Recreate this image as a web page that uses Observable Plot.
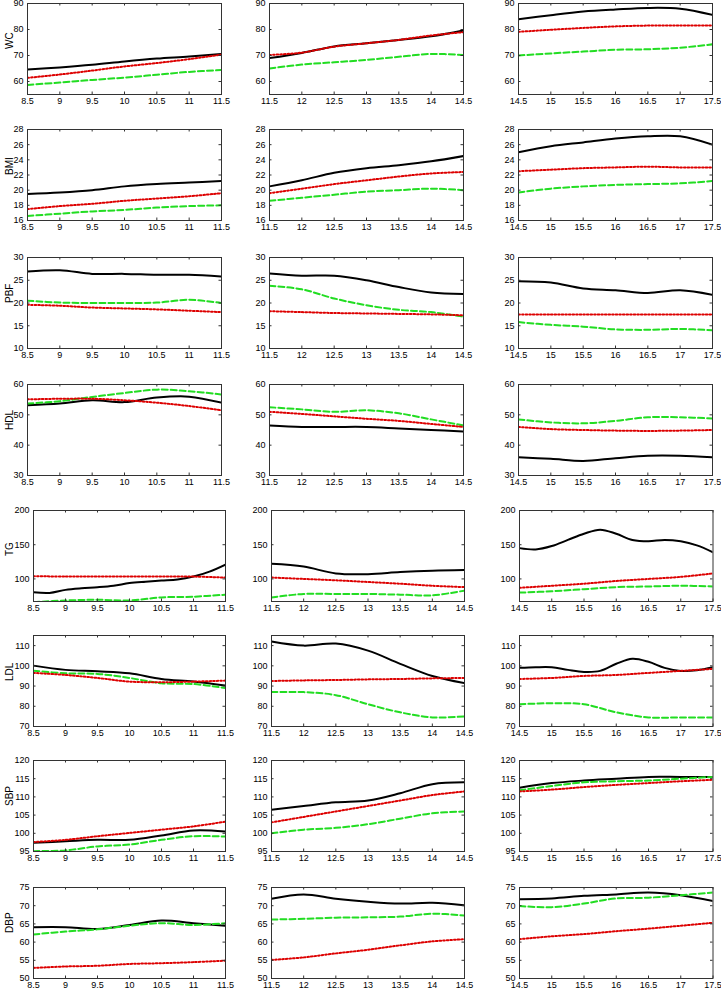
<!DOCTYPE html>
<html><head><meta charset="utf-8">
<script src="https://cdn.jsdelivr.net/npm/d3@7"></script>
<script src="https://cdn.jsdelivr.net/npm/@observablehq/plot@0.6"></script>
<style>
body{margin:0;background:#fff;}
#fig{position:relative;width:721px;height:988px;overflow:hidden;}
#fig svg{position:absolute;}
</style>
</head><body><div id="fig"></div>
<script>
// ---- data ----
const variables = ["WC", "BMI", "PBF", "HDL", "TG", "LDL", "SBP", "DBP"];
const ageRanges = [[8.5, 11.5], [11.5, 14.5], [14.5, 17.5]];
// sample ages (7-value series use ages, 13-value series use agesFine)
const ages = [
  [8.5, 9, 9.5, 10, 10.5, 11, 11.5],
  [11.5, 12, 12.5, 13, 13.5, 14, 14.5],
  [14.5, 15, 15.5, 16, 16.5, 17, 17.5]
];
const agesFine = [
  [8.5, 8.75, 9, 9.25, 9.5, 9.75, 10, 10.25, 10.5, 10.75, 11, 11.25, 11.5],
  [11.5, 11.75, 12, 12.25, 12.5, 12.75, 13, 13.25, 13.5, 13.75, 14, 14.25, 14.5],
  [14.5, 14.75, 15, 15.25, 15.5, 15.75, 16, 16.25, 16.5, 16.75, 17, 17.25, 17.5]
];
const xTicks = [
  [8.5, 9, 9.5, 10, 10.5, 11, 11.5],
  [11.5, 12, 12.5, 13, 13.5, 14, 14.5],
  [14.5, 15, 15.5, 16, 16.5, 17, 17.5]
];
const yDomains = [[55, 90], [16, 28], [10, 30], [30, 60], [67, 200], [70, 115], [95, 120], [50, 75]];
const yTicks = [
  [60, 70, 80, 90],
  [16, 18, 20, 22, 24, 26, 28],
  [10, 15, 20, 25, 30],
  [30, 40, 50, 60],
  [100, 150, 200],
  [70, 80, 90, 100, 110],
  [95, 100, 105, 110, 115, 120],
  [50, 55, 60, 65, 70, 75]
];

// black solid, red dotted, green dashed — one array per age column
const wcBlack = [[64.6, 65.4, 66.4, 67.7, 68.8, 69.6, 70.6], [69.0, 71.0, 73.5, 74.7, 76.0, 77.4, 79.6], [83.9, 85.5, 86.9, 87.7, 88.3, 88.0, 85.6]];
const wcRed   = [[61.4, 62.7, 64.2, 65.8, 67.1, 68.6, 70.3], [70.2, 71.1, 73.4, 74.7, 76.0, 77.7, 79.0], [79.1, 79.9, 80.6, 81.2, 81.5, 81.5, 81.5]];
const wcGreen = [[58.7, 59.6, 60.6, 61.5, 62.6, 63.7, 64.4], [65.0, 66.5, 67.4, 68.3, 69.5, 70.6, 70.2], [70.0, 70.8, 71.5, 72.2, 72.4, 73.0, 74.3]];

const bmiBlack = [[19.5, 19.7, 20.0, 20.5, 20.8, 21.0, 21.2], [20.5, 21.3, 22.3, 22.9, 23.3, 23.8, 24.5], [25.0, 25.8, 26.3, 26.8, 27.1, 27.1, 26.0]];
const bmiRed   = [[17.5, 17.9, 18.2, 18.6, 18.9, 19.2, 19.6], [19.6, 20.2, 20.8, 21.3, 21.8, 22.2, 22.4], [22.5, 22.7, 22.9, 23.0, 23.1, 23.0, 23.0]];
const bmiGreen = [[16.6, 16.9, 17.2, 17.4, 17.7, 17.9, 18.0], [18.6, 19.0, 19.4, 19.8, 20.0, 20.2, 20.0], [19.7, 20.2, 20.5, 20.7, 20.8, 20.9, 21.2]];

const pbfBlack = [[26.9, 27.2, 26.4, 26.4, 26.2, 26.2, 25.8], [26.5, 26.0, 26.0, 25.0, 23.5, 22.3, 22.0], [24.8, 24.5, 23.2, 22.8, 22.2, 22.8, 21.8]];
const pbfRed   = [[19.6, 19.4, 19.0, 18.8, 18.6, 18.3, 18.0], [18.2, 18.0, 17.8, 17.7, 17.6, 17.5, 17.3], [17.5, 17.5, 17.5, 17.5, 17.5, 17.5, 17.5]];
const pbfGreen = [[20.5, 20.1, 20.0, 20.0, 20.1, 20.7, 20.0], [23.8, 23.0, 21.0, 19.5, 18.5, 18.0, 17.0], [15.8, 15.2, 14.8, 14.2, 14.1, 14.3, 14.0]];

const hdlBlack = [[53.2, 53.7, 54.8, 54.2, 55.7, 56.0, 54.0], [46.5, 46.0, 46.0, 46.0, 45.5, 45.0, 44.5], [36.0, 35.5, 34.8, 35.7, 36.5, 36.5, 36.0]];
const hdlRed   = [[55.1, 55.3, 55.3, 54.8, 54.0, 52.9, 51.5], [51.0, 50.3, 49.5, 48.7, 48.0, 47.0, 46.0], [46.0, 45.3, 45.0, 44.8, 44.7, 44.8, 45.0]];
const hdlGreen = [[53.7, 54.5, 55.9, 57.2, 58.3, 57.8, 56.7], [52.5, 51.8, 51.0, 51.5, 50.5, 48.5, 46.5], [48.5, 47.5, 47.2, 48.0, 49.2, 49.2, 48.8]];

const tgBlack = [
  [80.5, 79.5, 84, 86.3, 87.8, 90, 94, 96, 97.6, 99, 103.4, 110.7, 121],
  [122, 118, 108, 107, 110, 112, 113],
  [145, 143, 148, 157, 166, 172, 166, 157, 155, 157, 155, 149, 139]
];
const tgRed   = [[104, 103.5, 103.5, 103.4, 103.4, 103.4, 102], [102, 100, 98, 95.5, 93, 90, 88], [87, 90, 93, 97, 100, 103, 108]];
const tgGreen = [[66, 68.5, 69.5, 68.5, 73, 74, 77], [73, 78, 78, 78, 77, 76, 83], [80, 82, 85, 88, 89, 90, 89]];

const ldlBlack = [
  [100.1, 98, 97.3, 96.3, 93.5, 92.2, 90.2],
  [112, 110, 111, 107.5, 101, 95, 91.5],
  [99, 99.3, 99.3, 98, 97, 97.5, 101, 103.5, 102, 99, 97.5, 97.8, 99.3]
];
const ldlRed   = [[96.5, 95.5, 94, 92.2, 91.9, 92.2, 92.7], [92.5, 92.8, 93, 93.3, 93.5, 93.8, 94], [93.5, 94, 95, 95.5, 96.5, 97.5, 98.5]];
const ldlGreen = [[97.6, 96.3, 96, 94, 91.4, 91, 89], [87, 87, 85.5, 81, 77, 74.5, 75], [81, 81.5, 81, 77, 74.5, 74.5, 74.5]];

const sbpBlack = [[97.4, 97.8, 98.2, 98.2, 99.4, 100.8, 100.5], [106.5, 107.5, 108.5, 109, 111, 113.5, 114], [112.5, 113.8, 114.5, 115, 115.5, 115.5, 115.5]];
const sbpRed   = [[97.6, 98.2, 99.2, 100.1, 101, 101.9, 103.2], [103, 104.5, 106, 107.5, 109, 110.5, 111.5], [111.5, 112, 112.7, 113.3, 113.8, 114.3, 114.7]];
const sbpGreen = [[95.1, 95.3, 96.4, 96.9, 98.2, 99.2, 99.1], [100, 101, 101.5, 102.5, 104, 105.5, 106], [111.8, 113, 114, 114.3, 114.5, 115, 115.5]];

const dbpBlack = [[64.1, 64.1, 63.6, 64.7, 65.9, 65.2, 64.5], [71.9, 73.1, 71.9, 71.1, 70.6, 70.8, 70.1], [71.8, 72.0, 72.7, 73.1, 73.6, 72.9, 71.3]];
const dbpRed   = [[52.9, 53.3, 53.5, 54.0, 54.2, 54.5, 54.9], [55.1, 55.8, 56.9, 57.9, 59.1, 60.2, 60.8], [60.8, 61.6, 62.2, 63.0, 63.7, 64.5, 65.3]];
const dbpGreen = [[62.1, 62.9, 63.5, 64.5, 65.2, 64.7, 65.2], [66.2, 66.4, 66.7, 66.8, 67.0, 67.8, 67.3], [69.9, 69.6, 70.6, 72.0, 72.2, 72.9, 73.6]];

const blackSeries = [wcBlack, bmiBlack, pbfBlack, hdlBlack, tgBlack, ldlBlack, sbpBlack, dbpBlack];
const redSeries   = [wcRed, bmiRed, pbfRed, hdlRed, tgRed, ldlRed, sbpRed, dbpRed];
const greenSeries = [wcGreen, bmiGreen, pbfGreen, hdlGreen, tgGreen, ldlGreen, sbpGreen, dbpGreen];

// ---- layout ----
// frame boxes [left, right] per column, upper rows (r<4) and lower rows (r>=4)
const frameX = [
  [[27, 221], [269, 463], [518, 712]],
  [[32.5, 224.5], [271, 464], [518.5, 712]]
];
const frameTops = [3, 129, 257, 384, 510, 635, 760, 887];
const FH = 91;
const ML = 34, MR = 10, MT = 10, MB = 18;
const axisColor = "#333";
const font = "'Liberation Sans', Arial, Helvetica, sans-serif";
const labelX = 9;

const fig = document.getElementById("fig");

function rows(arr, c) {
  const xs = arr.length === agesFine[c].length ? agesFine[c] : ages[c];
  return xs.map((a, i) => ({age: a, value: arr[i]}));
}

for (let r = 0; r < variables.length; r++) {
  for (let c = 0; c < 3; c++) {
    const [fl, fr] = frameX[r < 4 ? 0 : 1][c];
    const FW = fr - fl;
    const black = rows(blackSeries[r][c], c);
    const red = rows(redSeries[r][c], c);
    const green = rows(greenSeries[r][c], c);
    const marks = [
      Plot.line(black, {x: "age", y: "value", stroke: "#000", strokeWidth: 2, curve: "catmull-rom", clip: true}),
      Plot.line(green, {x: "age", y: "value", stroke: "#22dd22", strokeWidth: 2, strokeDasharray: "6,3", curve: "catmull-rom", clip: true}),
      Plot.line(red, {x: "age", y: "value", stroke: "#dd0000", strokeWidth: 2, strokeDasharray: "1.6,2", curve: "catmull-rom", clip: true}),
      Plot.frame({stroke: axisColor, strokeWidth: 1}),
      Plot.tickX(xTicks[c], {x: d => d, stroke: axisColor, insetTop: FH - 2.5}),
      Plot.tickX(xTicks[c], {x: d => d, stroke: axisColor, insetBottom: FH - 2.5}),
      Plot.tickY(yTicks[r], {y: d => d, stroke: axisColor, insetRight: FW - 2.5}),
      Plot.tickY(yTicks[r], {y: d => d, stroke: axisColor, insetLeft: FW - 2.5}),
      Plot.axisX({ticks: xTicks[c], tickSize: 0, tickPadding: 3, tickFormat: d => String(d), fontSize: 9, label: null}),
      Plot.axisY({ticks: yTicks[r], tickSize: 0, tickPadding: 4, tickFormat: d => String(d), fontSize: 9, label: null})
    ];
    if (c === 0) {
      marks.push(Plot.text([variables[r]], {text: d => d, frameAnchor: "left", dx: labelX - fl, rotate: -90, fontSize: 10, fill: "#000"}));
    }
    const svg = Plot.plot({
      width: ML + FW + MR,
      height: MT + FH + MB,
      marginLeft: ML, marginRight: MR, marginTop: MT, marginBottom: MB,
      x: {domain: ageRanges[c]},
      y: {domain: yDomains[r]},
      style: {fontFamily: font, background: "transparent", color: "#000", overflow: "visible"},
      marks
    });
    svg.style.left = (fl - ML) + "px";
    svg.style.top = (frameTops[r] - MT) + "px";
    fig.appendChild(svg);
  }
}
</script>
</body></html>
